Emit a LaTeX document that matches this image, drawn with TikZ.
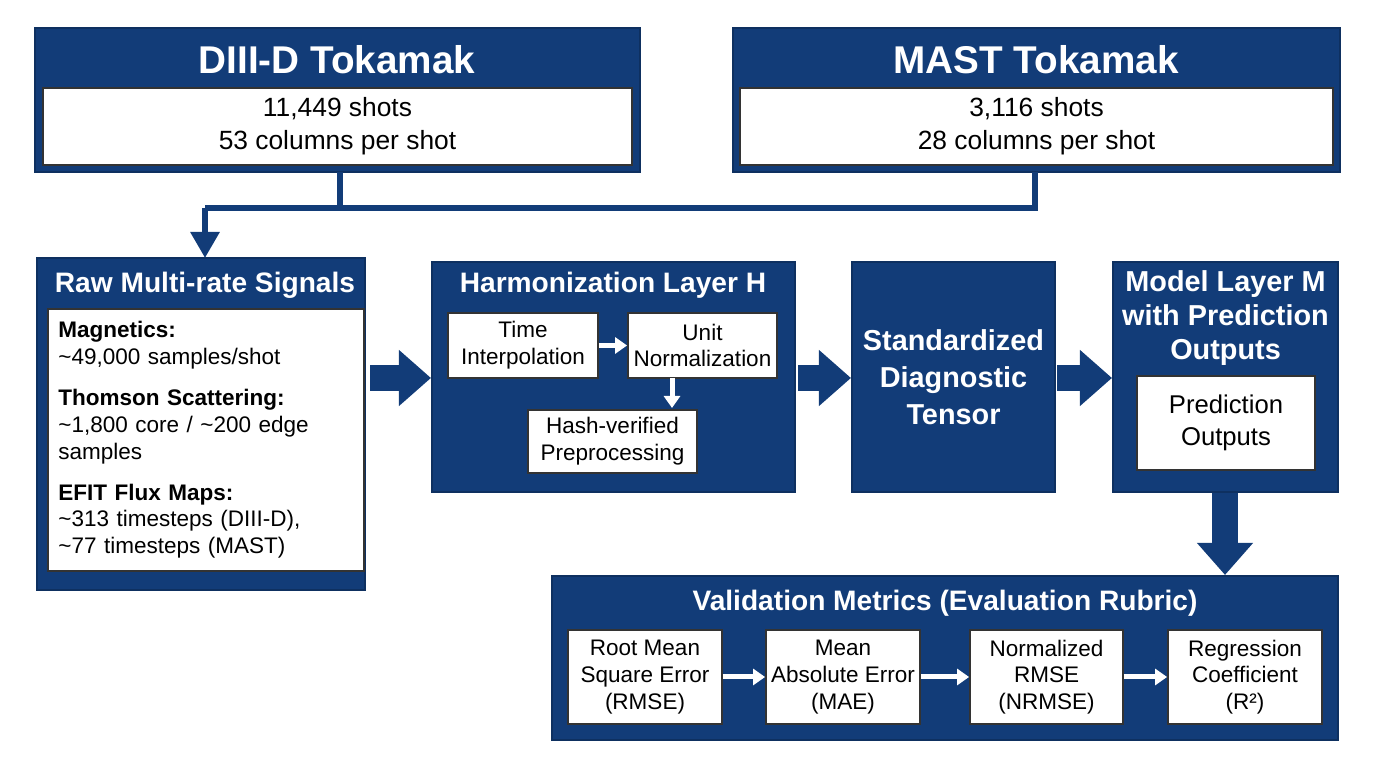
\documentclass[tikz,border=0pt]{standalone}
\usepackage{fontspec}
\setmainfont{Liberation Sans}
\usetikzlibrary{arrows.meta,positioning,calc}
\definecolor{navy}{RGB}{18,60,120}
\tikzset{
  outer/.style={draw=navy!80!black,fill=navy,line width=0.6pt},
  inner/.style={draw=black!80,fill=white,line width=0.5pt,align=center,inner sep=1pt,font=\fontsize{6.4}{7.6}\selectfont},
  ttl/.style={text=white,font=\bfseries\fontsize{8}{9.5}\selectfont,align=center},
  pipe/.style={navy,line width=0.06cm},
  blockarrow/.style={navy,line width=0.26cm,-{Triangle[width=0.54cm,length=0.32cm]}},
  wharrow/.style={white,line width=0.05cm,-{Triangle[width=0.16cm,length=0.12cm]}},
}
\begin{document}
\begin{tikzpicture}[x=0.01cm,y=-0.01cm]
\useasboundingbox (0,0) rectangle (1376,768);

% tokamak sources
\draw[outer] (35,28) rectangle (640,172);
\node[text=white,font=\bfseries\fontsize{11}{13}\selectfont] (diiid) at (337,60) {DIII-D Tokamak};
\node[inner,minimum width=5.89cm,minimum height=0.77cm,font=\fontsize{7.5}{9.4}\selectfont] (diiidbox) at (337.5,126.5) {11,449 shots\\53 columns per shot};
\draw[outer] (733,28) rectangle (1340,172);
\node[text=white,font=\bfseries\fontsize{11}{13}\selectfont] (mast) at (1036,60) {MAST Tokamak};
\node[inner,minimum width=5.93cm,minimum height=0.77cm,font=\fontsize{7.5}{9.4}\selectfont] (mastbox) at (1036.5,126.5) {3,116 shots\\28 columns per shot};
\coordinate (diiidbot) at (340,172);
\coordinate (mastbot) at (1035,172);

% raw signals
\draw[outer] (37,258) rectangle (365,590);
\coordinate (rawtop) at (205,258);
\node[ttl] (raw) at (205,285) {Raw Multi-rate Signals};
\node[inner,minimum width=3.16cm,minimum height=2.62cm,anchor=north west,align=left,text width=2.95cm,inner sep=0.1cm] (rawbox) at (47,308) {%
\textbf{Magnetics:}\\ \textasciitilde49,000 samples/shot\\[1.2ex]
\textbf{Thomson Scattering:}\\ \textasciitilde1,800 core / \textasciitilde200 edge samples\\[1.2ex]
\textbf{EFIT Flux Maps:}\\ \textasciitilde313 timesteps (DIII-D),\\ \textasciitilde77 timesteps (MAST)};

\draw[pipe] (diiidbot) -- (340,208);
\draw[pipe] (mastbot) -- (1035,208) -- (205,208);
\draw[pipe,-{Triangle[width=0.28cm,length=0.26cm]}] (205,208) -- (rawtop);

% harmonization layer
\draw[outer] (432,262) rectangle (795,492);
\node[ttl] (harm) at (613,285) {Harmonization Layer H};
\node[inner,minimum width=1.5cm,minimum height=0.65cm] (interp) at (523,345.5) {Time\\Interpolation};
\node[inner,minimum width=1.49cm,minimum height=0.65cm] (unit) at (702.5,345.5) {Unit\\Normalization};
\node[inner,minimum width=1.69cm,minimum height=0.63cm] (hash) at (612.5,441.5) {Hash-verified\\Preprocessing};
\draw[wharrow] (interp) -- (unit);
\draw[wharrow] (672,378) -- (672,408);

% tensor
\node[outer,minimum width=2.03cm,minimum height=2.3cm,ttl,inner sep=1pt,font=\bfseries\fontsize{8.2}{10.6}\selectfont] (tensor) at (953.5,377) {Standardized\\Diagnostic\\Tensor};

% model layer
\draw[outer] (1113,262) rectangle (1338,492);
\node[ttl,font=\bfseries\fontsize{8.2}{9.6}\selectfont] (model) at (1225.5,318) {Model Layer M\\with Prediction\\Outputs};
\node[inner,minimum width=1.78cm,minimum height=0.94cm,font=\fontsize{7.3}{9}\selectfont] (pred) at (1226,423) {Prediction\\Outputs};

\draw[blockarrow] (370,378) -- (431,378);
\draw[blockarrow] (798,378) -- (851,378);
\draw[blockarrow] (1057,378) -- (1112,378);
\draw[blockarrow] (1225,493) -- (1225,575);

% validation metrics
\draw[outer] (552,576) rectangle (1338,740);
\node[ttl] (valid) at (945,603) {Validation Metrics (Evaluation Rubric)};
\node[inner,minimum width=1.54cm,minimum height=0.94cm] (rmse) at (645,677) {Root Mean\\Square Error\\(RMSE)};
\node[inner,minimum width=1.54cm,minimum height=0.94cm] (mae) at (843,677) {Mean\\Absolute Error\\(MAE)};
\node[inner,minimum width=1.53cm,minimum height=0.94cm] (nrmse) at (1046.5,677) {Normalized\\RMSE\\(NRMSE)};
\node[inner,minimum width=1.54cm,minimum height=0.94cm] (r2) at (1245,677) {Regression\\Coefficient\\(R²)};
\draw[wharrow] (rmse) -- (mae);
\draw[wharrow] (mae) -- (nrmse);
\draw[wharrow] (nrmse) -- (r2);
\end{tikzpicture}
\end{document}
